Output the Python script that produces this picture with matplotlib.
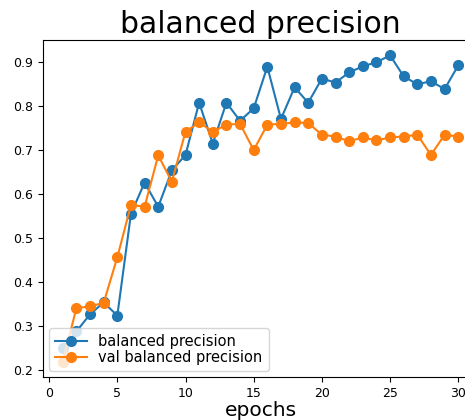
import numpy as np
import matplotlib.pyplot as plt

epochs = np.arange(1, 31)
bal_prec = [0.25, 0.287, 0.326, 0.353, 0.323, 0.555, 0.626, 0.571, 0.654, 0.689,
            0.808, 0.715, 0.808, 0.767, 0.795, 0.890, 0.771, 0.843, 0.808, 0.863,
            0.854, 0.877, 0.891, 0.900, 0.916, 0.868, 0.850, 0.857, 0.839, 0.893]
val_bal_prec = [0.218, 0.340, 0.344, 0.352, 0.456, 0.575, 0.571, 0.688, 0.628, 0.742,
                0.763, 0.742, 0.758, 0.760, 0.700, 0.758, 0.760, 0.763, 0.762, 0.735,
                0.731, 0.720, 0.729, 0.722, 0.729, 0.731, 0.735, 0.689, 0.735, 0.731]

fig = plt.figure(figsize=(4.65, 4.2), dpi=100)
# right spine falls outside the picture, as in the cropped original
ax = fig.add_axes([43 / 465, 1 - 377 / 420, 435 / 465, 337 / 420])

ax.plot(epochs, bal_prec, marker="o", markersize=7, label="balanced precision")
ax.plot(epochs, val_bal_prec, marker="o", markersize=7, label="val balanced precision")

ax.set_title("balanced precision", fontsize=21.5, pad=5)
ax.set_xlabel("epochs", fontsize=14.5, labelpad=1)
ax.set_xticks([0, 5, 10, 15, 20, 25, 30])
ax.tick_params(labelsize=9)
ax.legend(loc="lower left", fontsize=10.5, labelspacing=0.1,
          borderaxespad=0.4, handlelength=2.2)

fig.savefig("out.png", dpi=100)
